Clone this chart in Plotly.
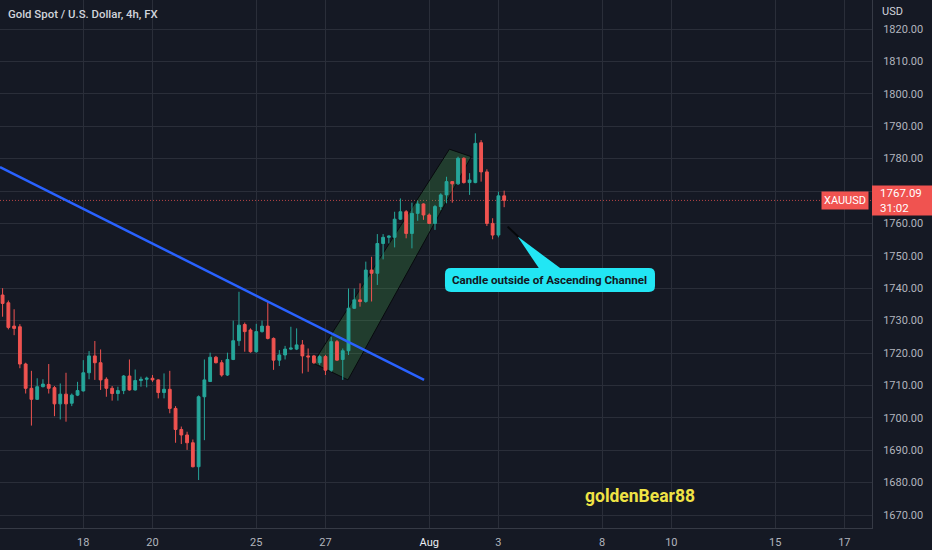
import plotly.graph_objects as go

# ---------------- data (4h candles, index = candle number from Mon 18 Jul 00:00) ----------------
candle_idx = list(range(-14, 74))
opens = [1737.9, 1735.5, 1728.3, 1728.1, 1716.6, 1709.1, 1705.7, 1709.6, 1710.3, 1709.3,
         1704.3, 1707.3, 1704.5, 1707.0, 1708.3, 1713.9, 1719.1, 1717.0, 1711.9, 1709.1,
         1707.5, 1708.4, 1712.9, 1708.6, 1711.5, 1711.9, 1712.2, 1711.7, 1707.8, 1708.8,
         1702.9, 1696.4, 1694.7, 1692.3, 1684.9, 1706.5, 1711.2, 1718.7, 1717.0, 1713.2,
         1718.0, 1723.8, 1728.8, 1727.1, 1720.4, 1726.6, 1728.3, 1724.5, 1717.8, 1719.4,
         1721.2, 1721.2, 1722.5, 1719.1, 1719.1, 1717.0, 1718.9, 1714.7, 1723.5, 1718.0,
         1720.7, 1733.8, 1736.4, 1735.9, 1745.6, 1744.6, 1753.8, 1755.7, 1755.7, 1761.3,
         1763.6, 1756.9, 1763.1, 1766.0, 1762.6, 1760.0, 1765.2, 1768.8, 1772.9, 1772.2,
         1780.1, 1772.6, 1772.6, 1784.9, 1775.9, 1760.0, 1756.4, 1768.5]
highs = [1740.0, 1736.2, 1733.5, 1728.9, 1717.0, 1714.5, 1712.2, 1711.9, 1716.6, 1709.8,
         1710.6, 1713.9, 1707.5, 1711.1, 1717.8, 1720.6, 1723.7, 1721.1, 1712.5, 1709.8,
         1709.6, 1713.2, 1718.0, 1714.9, 1712.7, 1712.7, 1713.2, 1711.9, 1713.7, 1714.5,
         1703.6, 1697.3, 1695.7, 1693.3, 1706.9, 1718.0, 1720.1, 1719.1, 1717.8, 1720.1,
         1730.0, 1738.9, 1729.4, 1727.6, 1729.0, 1730.0, 1735.8, 1724.8, 1720.9, 1722.2,
         1728.1, 1727.6, 1724.0, 1721.4, 1719.4, 1719.4, 1719.4, 1725.0, 1724.0, 1721.4,
         1739.9, 1739.9, 1741.5, 1748.2, 1749.7, 1756.7, 1756.7, 1756.3, 1763.6, 1767.7,
         1764.1, 1766.4, 1767.0, 1766.2, 1763.1, 1765.7, 1769.3, 1774.4, 1773.0, 1780.6,
         1780.4, 1775.5, 1787.8, 1785.7, 1776.7, 1761.6, 1769.8, 1770.1]
lows = [1731.2, 1727.3, 1725.5, 1715.3, 1707.5, 1697.6, 1705.5, 1709.4, 1707.5, 1700.5,
        1699.5, 1698.8, 1703.6, 1706.7, 1708.1, 1711.9, 1711.7, 1708.6, 1706.5, 1705.3,
        1705.3, 1707.3, 1708.4, 1708.4, 1709.6, 1709.4, 1711.1, 1706.0, 1706.0, 1701.4,
        1692.3, 1691.9, 1690.1, 1684.7, 1680.8, 1693.1, 1711.1, 1716.8, 1712.7, 1712.9,
        1717.8, 1722.2, 1720.4, 1720.1, 1720.1, 1726.3, 1724.2, 1714.8, 1716.0, 1718.0,
        1720.9, 1720.9, 1713.7, 1714.2, 1716.6, 1716.3, 1713.2, 1714.2, 1717.6, 1711.7,
        1719.4, 1733.6, 1734.3, 1735.5, 1735.9, 1741.0, 1748.9, 1753.8, 1752.6, 1761.1,
        1755.4, 1752.3, 1760.8, 1761.1, 1759.8, 1758.0, 1764.1, 1766.2, 1766.4, 1771.9,
        1772.3, 1768.8, 1772.4, 1772.9, 1759.2, 1755.1, 1755.7, 1765.0]
closes = [1735.3, 1727.9, 1727.6, 1716.6, 1709.1, 1705.7, 1709.6, 1710.4, 1709.1, 1704.3,
          1707.3, 1704.3, 1707.0, 1708.4, 1713.9, 1719.1, 1717.0, 1711.7, 1709.1, 1707.5,
          1708.4, 1712.9, 1708.6, 1711.5, 1711.9, 1712.2, 1711.7, 1707.8, 1708.8, 1702.9,
          1696.4, 1694.7, 1692.3, 1684.9, 1706.5, 1711.7, 1718.7, 1717.0, 1713.2, 1718.0,
          1723.8, 1728.6, 1726.6, 1720.4, 1726.6, 1728.3, 1724.5, 1717.8, 1719.4, 1721.2,
          1721.5, 1722.5, 1719.1, 1718.8, 1717.0, 1718.9, 1714.7, 1723.5, 1717.8, 1720.7,
          1733.8, 1736.4, 1735.9, 1745.6, 1744.6, 1753.8, 1755.7, 1756.1, 1761.3, 1763.6,
          1756.9, 1763.1, 1766.0, 1762.6, 1760.0, 1765.2, 1768.8, 1772.9, 1772.2, 1780.1,
          1772.6, 1773.4, 1784.7, 1775.9, 1760.0, 1756.4, 1768.5, 1767.09]

# date ticks: label and trading-day offset from Mon 18 Jul (6 candles per day)
tick_labels = ["18", "20", "25", "27", "Aug", "3", "8", "10", "15", "17"]
tick_day_offsets = [0, 2, 5, 7, 10, 12, 15, 17, 20, 22]
candles_per_day = 6
price_ticks = [1670, 1680, 1690, 1700, 1710, 1720, 1730, 1740, 1750, 1760, 1770, 1780, 1790, 1800, 1810, 1820]

# drawings (anchored in candle-index / price units)
trend_x = [-14.45, 59.1]
trend_y = [1777.4, 1711.7]
channel_x = [39.85, 45.9, 67.3, 63.5]
channel_y = [1716.9, 1711.7, 1780.6, 1782.9]
countdown = "31:02"
symbol = "XAUUSD"

# ---------------- styling ----------------
BG = "#151924"
GRID = "#2a2e39"
TXT = "#b2b5be"
UP = "#26a69a"
DN = "#ef5350"
FONT = "Roboto"

x_range = [-14.45, 136.8]
y_range = [1665.99, 1828.95]
last = closes[-1]

fig = go.Figure()
fig.add_trace(go.Candlestick(
    x=candle_idx, open=opens, high=highs, low=lows, close=closes,
    increasing=dict(line=dict(color=UP, width=1), fillcolor=UP),
    decreasing=dict(line=dict(color=DN, width=1), fillcolor=DN),
    whiskerwidth=0, hoverinfo="skip", showlegend=False,
))

tickvals = [d * candles_per_day for d in tick_day_offsets]
ticktext = [("<span style='color:#eceef3'>%s</span>" % t) if t == "Aug" else t for t in tick_labels]

shapes = []
# channel (rotated rectangle)
path = "M " + " L ".join(f"{x},{y}" for x, y in zip(channel_x, channel_y)) + " Z"
shapes.append(dict(type="path", path=path, xref="x", yref="y", layer="between",
                   fillcolor="rgba(76,175,80,0.24)", line=dict(color="#07090d", width=1)))
# trend line
shapes.append(dict(type="line", xref="x", yref="y", x0=trend_x[0], y0=trend_y[0], x1=trend_x[1], y1=trend_y[1],
                   line=dict(color="#2962ff", width=2.5), layer="above"))
# last price dotted line
shapes.append(dict(type="line", xref="paper", yref="y", x0=0, x1=1, y0=last, y1=last,
                   line=dict(color="rgba(239,83,80,0.75)", width=1, dash="1px,2px"), layer="between"))

# callout box (rounded) + pointer
bx0, bx1, by0, by1 = 62.73, 99.16, 1738.83, 1746.23
rx, ry = 1.05, 1.85
cyan = "#22e6f4"
box_path = (f"M {bx0+rx},{by0} L {bx1-rx},{by0} Q {bx1},{by0} {bx1},{by0+ry} L {bx1},{by1-ry} "
            f"Q {bx1},{by1} {bx1-rx},{by1} L {bx0+rx},{by1} Q {bx0},{by1} {bx0},{by1-ry} "
            f"L {bx0},{by0+ry} Q {bx0},{by0} {bx0+rx},{by0} Z")
shapes.append(dict(type="path", path=box_path, xref="x", yref="y", fillcolor=cyan, line=dict(width=0), layer="above"))
shapes.append(dict(type="path", path=f"M 75.3,1756.0 L 79.0,{by1} L 82.7,{by1} Z", xref="x", yref="y",
                   fillcolor=cyan, line=dict(width=0), layer="above"))
shapes.append(dict(type="line", xref="x", yref="y", x0=73.6, y0=1759.0, x1=75.5, y1=1755.8,
                   line=dict(color="#05070a", width=2), layer="above"))

# price axis label box
plot_w = 932 - 60
plot_h = 528
yp = (last - y_range[0]) / (y_range[1] - y_range[0])
shapes.append(dict(type="rect", xref="paper", yref="paper", x0=1, x1=1 + 60 / plot_w,
                   y0=yp - 15 / plot_h, y1=yp + 15 / plot_h, fillcolor="#f05350", line=dict(width=0), layer="above"))

annotations = [
    dict(text="Gold Spot / U.S. Dollar, 4h, FX", xref="paper", yref="paper", x=0, y=1, xanchor="left",
         yanchor="top", xshift=6, yshift=-5, showarrow=False,
         font=dict(family=FONT, size=11.4, color="#d1d4dc", weight=500)),
    dict(text="USD", xref="paper", yref="paper", x=1, y=1, xanchor="left", yanchor="top", xshift=8, yshift=-3,
         showarrow=False, font=dict(family=FONT, size=11, color="#d1d4dc")),
    dict(text=f"{last:.2f}<br>{countdown}", xref="paper", yref="paper", x=1, y=yp, xanchor="left",
         yanchor="middle", xshift=6, showarrow=False, align="left",
         font=dict(family=FONT, size=11.5, color="#ffffff")),
    dict(text=symbol, xref="paper", yref="y", x=1, y=last, xanchor="right", yanchor="middle", xshift=-3,
         showarrow=False, bgcolor="#f05350", borderpad=2,
         font=dict(family=FONT, size=11, color="#ffffff")),
    dict(text="<b>Candle outside of Ascending Channel</b>", xref="x", yref="y", x=(bx0 + bx1) / 2,
         y=(by0 + by1) / 2, showarrow=False, font=dict(family=FONT, size=11.6, color="#131722")),
    dict(text="<b>goldenBear88</b>", xref="x", yref="y", x=96.57, y=1675.9, showarrow=False,
         font=dict(family=FONT, size=17.5, color="#efe345")),
]

fig.update_layout(
    width=932, height=550,
    margin=dict(l=0, r=60, t=0, b=22, autoexpand=False),
    paper_bgcolor=BG, plot_bgcolor=BG,
    shapes=shapes, annotations=annotations,
    showlegend=False, hovermode=False,
    xaxis=dict(range=x_range, tickvals=tickvals, ticktext=ticktext, showgrid=True, gridcolor=GRID,
               gridwidth=1, zeroline=False, showline=True, linecolor="#363a45", linewidth=1,
               ticks="", ticklabelstandoff=4, rangeslider=dict(visible=False), automargin=False,
               tickfont=dict(family=FONT, size=11, color=TXT), fixedrange=True),
    yaxis=dict(range=y_range, side="right", tickvals=price_ticks, tickformat=".2f", showgrid=True,
               gridcolor=GRID, gridwidth=1, zeroline=False, showline=True, linecolor="#363a45",
               linewidth=1, ticks="", ticklabelstandoff=8, automargin=False,
               tickfont=dict(family=FONT, size=11, color=TXT), fixedrange=True),
)

fig.write_html("out.html", config={"displayModeBar": False},
               post_script="document.body.style.margin='0';document.body.style.overflow='hidden';")
